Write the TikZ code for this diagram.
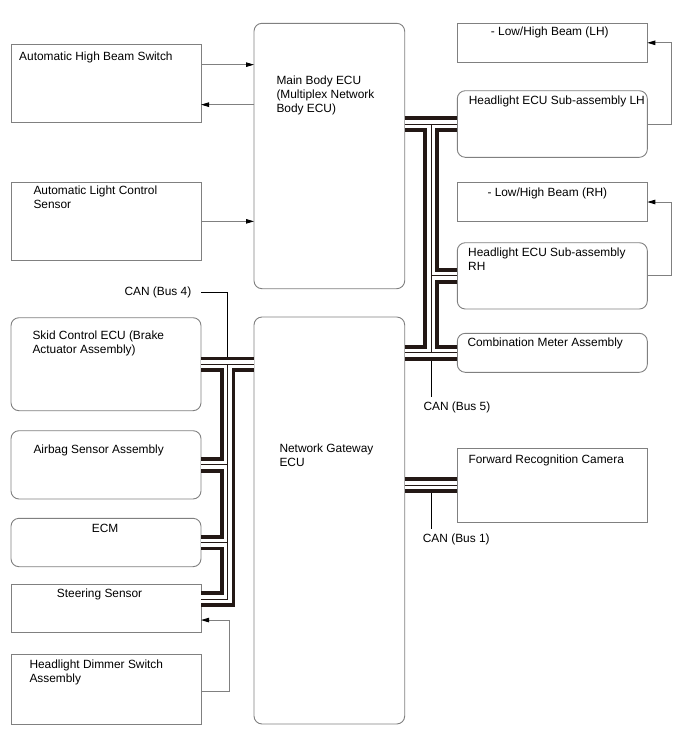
\documentclass[tikz,border=0pt]{standalone}
\usepackage{fontspec}
\setmainfont{Liberation Sans}
\usetikzlibrary{arrows.meta,positioning,calc}
\definecolor{BoxGray} {RGB}{128,128,128}
\definecolor{BusBlack}{RGB}{ 35, 24, 21}
\tikzset{
  %% boxes: square / rounded
  sqbox/.style={rectangle,draw=BoxGray,line width=0.9pt,
                minimum width=190pt,inner sep=0pt,outer sep=0pt},
  rdbox/.style={sqbox,rounded corners=8pt},
  ecubox/.style={rdbox,minimum width=150.7pt},
  %% text in the boxes
  txt/.style={anchor=north west,inner sep=0pt,align=left,
              font=\fontsize{11.9}{14}\selectfont,
              execute at begin node=\strut},
  %% signal arrows
  sigarr/.style={-{Triangle[length=8pt,width=4.5pt,color=black]},
                 draw=BoxGray,line width=0.9pt},
  lead/.style={draw=black,line width=0.8pt},
  %% CAN cable: outer, gap, wire
  busouter/.style={draw=BusBlack,line width=15.4pt},
  businner/.style={draw=white,line width=8pt},
  buswire/.style={draw=BusBlack,line width=0.9pt},
}
\begin{document}
\begin{tikzpicture}[x=1pt,y=-1pt]
  \useasboundingbox (0,0) rectangle (688,755);

  % left column
  \node[sqbox,minimum height=77.7pt] (ahbs) at (106,83.15) {};
  \node[sqbox,minimum height=77.3pt,below=60.7pt of ahbs] (alcs) {};
  \node[rdbox,minimum height=93pt,below=57.7pt of alcs] (skid) {};
  \node[rdbox,minimum height=68.3pt,below=20pt of skid] (airbag) {};
  \node[rdbox,minimum height=48.4pt,below=19.3pt of airbag] (ecm) {};
  \node[sqbox,minimum height=48.7pt,below=17.3pt of ecm] (steer) {};
  \node[sqbox,minimum height=69.6pt,below=22pt of steer] (dimmer) {};

  % ECUs
  \node[ecubox,minimum height=265.4pt] (main) at (329.35,156) {};
  \node[ecubox,minimum height=407pt,below=28.3pt of main] (ngw) {};

  % right column
  \node[sqbox,minimum height=39pt] (lhb) at (552.3,42.8) {};
  \node[rdbox,minimum height=66.6pt,below=28.4pt of lhb] (hllh) {};
  \node[sqbox,minimum height=38.6pt,below=25.4pt of hllh] (rhb) {};
  \node[rdbox,minimum height=66.3pt,below=21.4pt of rhb] (hlrh) {};
  \node[rdbox,minimum height=39pt,below=24.3pt of hlrh] (cm) {};
  \node[sqbox,minimum height=74pt,below=75.7pt of cm] (frc) {};

  % texts
  \node[txt] (ahbsT) at ([shift={(8,5.9)}]ahbs.north west) {Automatic High Beam Switch};
  \node[txt] (alcsT) at ([shift={(22.3,2.8)}]alcs.north west) {Automatic Light Control\\Sensor};
  \node[txt] (skidT) at ([shift={(21.3,13)}]skid.north west) {Skid Control ECU (Brake\\Actuator Assembly)};
  \node[txt] (airbagT) at ([shift={(22.3,12.5)}]airbag.north west) {Airbag Sensor Assembly};
  \node[txt] (ecmT) at ([shift={(80.7,4.6)}]ecm.north west) {ECM};
  \node[txt] (steerT) at ([shift={(45.7,3.2)}]steer.north west) {Steering Sensor};
  \node[txt] (dimmerT) at ([shift={(18.3,4.8)}]dimmer.north west) {Headlight Dimmer Switch\\Assembly};
  \node[txt] (mainT) at ([shift={(22.3,52.2)}]main.north west) {Main Body ECU\\(Multiplex Network\\Body ECU)};
  \node[txt] (ngwT) at ([shift={(25.3,126.2)}]ngw.north west) {Network Gateway\\ECU};
  \node[txt] (lhbT) at ([shift={(33.4,2.6)}]lhb.north west) {- Low/High Beam (LH)};
  \node[txt] (hllhT) at ([shift={(11.4,4.2)}]hllh.north west) {Headlight ECU Sub-assembly LH};
  \node[txt] (rhbT) at ([shift={(30,3.8)}]rhb.north west) {- Low/High Beam (RH)};
  \node[txt] (hlrhT) at ([shift={(10.7,4.5)}]hlrh.north west) {Headlight ECU Sub-assembly\\RH};
  \node[txt] (cmT) at ([shift={(10,3.2)}]cm.north west) {Combination Meter Assembly};
  \node[txt] (frcT) at ([shift={(11,5.2)}]frc.north west) {Forward Recognition Camera};

  % CAN labels
  \node[txt] (can4) at (124.3,285.5) {CAN (Bus 4)};
  \node[txt] (can5) at (423.3,400.5) {CAN (Bus 5)};
  \node[txt] (can1) at (422.7,532.9) {CAN (Bus 1)};

  % bus junctions
  \coordinate (bus4) at ($(skid.east)!0.5!(skid.east -| ngw.west)$);
  \coordinate (steerbus) at ([yshift=9.3pt]steer.east);
  \coordinate (bus5) at ($(hllh.west -| main.east)!0.5!(hllh.west)$);
  \coordinate (bus1) at ($(frc.west -| ngw.east)!0.5!(frc.west)$);

  % CAN cables
  \foreach \layer in {busouter,businner,buswire}{
    \draw[\layer] (skid.east) -- (skid.east -| ngw.west);
    \draw[\layer] (bus4) -- (bus4 |- steerbus) -- (steerbus);
    \draw[\layer] (bus4 |- airbag.east) -- (airbag.east);
    \draw[\layer] (bus4 |- ecm.east) -- (ecm.east);
    \draw[\layer] (hllh.west -| main.east) -- (hllh.west);
    \draw[\layer] (bus5) -- (bus5 |- cm.west);
    \draw[\layer] (bus5 |- hlrh.west) -- (hlrh.west);
    \draw[\layer] (cm.west -| ngw.east) -- (cm.west);
    \draw[\layer] (frc.west -| ngw.east) -- (frc.west);
  }

  % lead lines to the labels
  \draw[lead] ([xshift=10pt]can4.east) -| ([yshift=7.7pt]bus4);
  \draw[lead] ([yshift=-7.7pt]bus5 |- cm.west) -- ([yshift=4pt]bus5 |- can5.north);
  \draw[lead] ([yshift=-7.7pt]bus1) -- ([yshift=4pt]bus1 |- can1.north);

  % signal arrows
  \draw[sigarr] ([yshift=18.5pt]ahbs.east) -- ([yshift=18.5pt]ahbs.east -| main.west);
  \draw[sigarr] ([yshift=-21.5pt]ahbs.east -| main.west) -- ([yshift=-21.5pt]ahbs.east);
  \draw[sigarr] (alcs.east) -- (alcs.east -| main.west);
  \draw[sigarr] (hllh.east) -- ++(24.4,0) |- (lhb.east);
  \draw[sigarr] (hlrh.east) -- ++(24.4,0) |- (rhb.east);
  \draw[sigarr] ([yshift=-1.5pt]dimmer.east) -- ++(28.7,0) |- ([yshift=-11.7pt]steer.east);
\end{tikzpicture}
\end{document}
